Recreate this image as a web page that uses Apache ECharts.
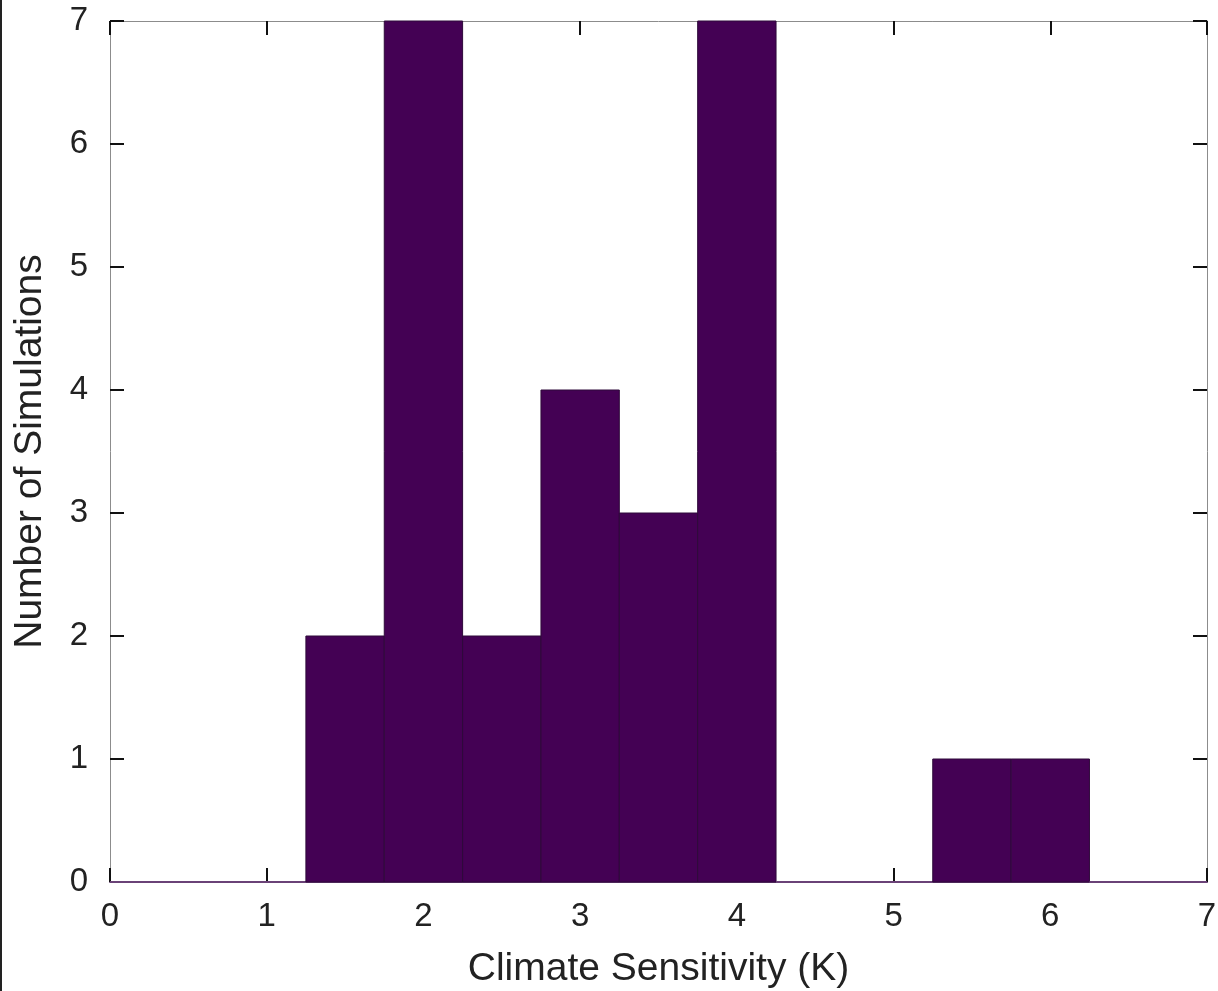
<!DOCTYPE html>
<html>
<head>
<meta charset="utf-8">
<script src="https://cdn.jsdelivr.net/npm/echarts@6/dist/echarts.min.js"></script>
<style>html,body{margin:0;padding:0;background:#fff;}#c{width:1218px;height:991px;}</style>
</head>
<body>
<div id="c"></div>
<script>
const binCenters = [0, 0.5, 1, 1.5, 2, 2.5, 3, 3.5, 4, 4.5, 5, 5.5, 6, 6.5, 7];
const counts     = [0, 0, 0, 2, 7, 2, 4, 3, 7, 0, 0, 1, 1, 0, 0];
const binWidth = 0.5;
const xTicks = [0, 1, 2, 3, 4, 5, 6, 7];
const yTicks = [0, 1, 2, 3, 4, 5, 6, 7];
const xLabel = 'Climate Sensitivity (K)';
const yLabel = 'Number of Simulations';

const chart = echarts.init(document.getElementById('c'));
const font = 'Liberation Sans, Arial, Helvetica, sans-serif';
const tickStyle = {show: true, inside: true, length: 14, lineStyle: {color: '#111', width: 2}};
const lineStyle = {show: true, onZero: false, lineStyle: {color: '#8c8c8c', width: 1}};
const bottomLine = {show: true, onZero: false, lineStyle: {color: '#6a4277', width: 2}};

const data = binCenters.map((c, i) => [c, counts[i]]);

chart.setOption({
  animation: false,
  backgroundColor: '#fff',
  grid: {left: 110, right: 11, top: 21, bottom: 109, containLabel: false, outerBoundsMode: 'none'},
  graphic: [{type: 'rect', left: 0, top: 0, shape: {width: 2, height: 991}, style: {fill: '#222'}, z: 100}],
  xAxis: [{
    type: 'value', min: 0, max: 7, interval: 1, position: 'bottom',
    axisLine: bottomLine, axisTick: tickStyle, splitLine: {show: false},
    axisLabel: {fontSize: 33, color: '#222', fontFamily: font, margin: 18},
    name: xLabel, nameLocation: 'middle', nameGap: 68,
    nameTextStyle: {fontSize: 39, color: '#222', fontFamily: font}
  }, {
    type: 'value', min: 0, max: 7, interval: 1, position: 'top',
    axisLine: lineStyle, axisTick: tickStyle, splitLine: {show: false},
    axisLabel: {show: false}
  }],
  yAxis: [{
    type: 'value', min: 0, max: 7, interval: 1, position: 'left',
    axisLine: lineStyle, axisTick: tickStyle, splitLine: {show: false},
    axisLabel: {fontSize: 33, color: '#222', fontFamily: font, margin: 22},
    name: yLabel, nameLocation: 'middle', nameGap: 60, nameRotate: 90,
    nameTextStyle: {fontSize: 39, color: '#222', fontFamily: font}
  }, {
    type: 'value', min: 0, max: 7, interval: 1, position: 'right',
    axisLine: lineStyle, axisTick: tickStyle, splitLine: {show: false},
    axisLabel: {show: false}
  }],
  series: [{
    type: 'custom',
    xAxisIndex: 0, yAxisIndex: 0,
    clip: false,
    z: 10,
    data: data,
    renderItem: function (params, api) {
      const c = api.value(0), v = api.value(1);
      const x0 = Math.max(0, c - binWidth / 2), x1 = Math.min(7, c + binWidth / 2);
      const p0 = api.coord([x0, 0]);
      const p1 = api.coord([x1, v]);
      if (v === 0) {
        return {type: 'line', shape: {x1: p0[0], y1: p0[1], x2: p1[0], y2: p0[1]},
                style: {stroke: '#6a4277', lineWidth: 2}};
      }
      return {type: 'rect',
        shape: {x: p0[0], y: p1[1], width: p1[0] - p0[0], height: p0[1] - p1[1]},
        style: {fill: '#440154', stroke: '#2e0a3a', lineWidth: 1}};
    }
  }]
});
</script>
</body>
</html>
